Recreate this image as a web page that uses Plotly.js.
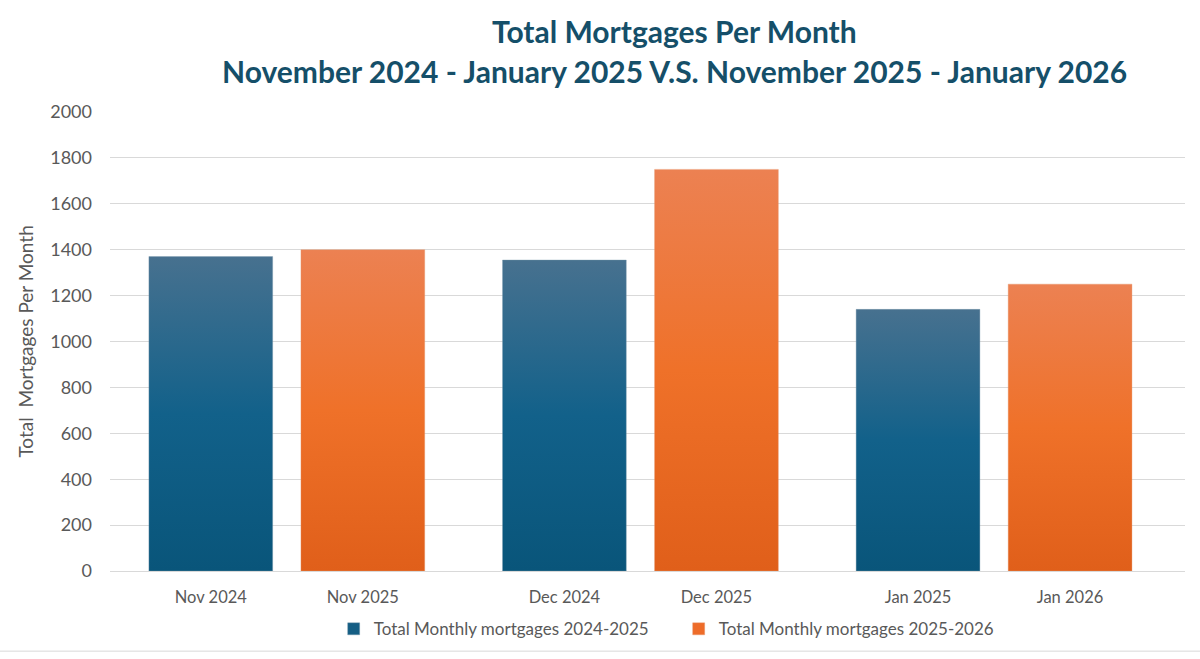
<!DOCTYPE html>
<html>
<head>
<meta charset="utf-8">
<script src="https://cdn.plot.ly/plotly-3.0.1.min.js"></script>
<style>
html,body{margin:0;padding:0;background:#fff;width:1200px;height:659px;overflow:hidden;}
#chart{width:1200px;height:659px;display:block;overflow:hidden;}
</style>
</head>
<body>
<div id="chart"></div>
<script>
// ---- data ----
const months2425 = ["Nov 2024", "Dec 2024", "Jan 2025"];
const months2526 = ["Nov 2025", "Dec 2025", "Jan 2026"];
const values2425 = [1370, 1355, 1140];
const values2526 = [1400, 1750, 1250];
const seriesNames = ["Total Monthly mortgages 2024-2025", "Total Monthly mortgages 2025-2026"];
const titleLines = ["Total Mortgages Per Month", "November 2024 - January 2025 V.S. November 2025 - January 2026"];
const yTitle = "Total  Mortgages Per Month";

const FONT = "Lato, 'Open Sans', sans-serif";
const TXT = "#595959";
const TITLE_COLOR = "#154F69";

const traces = [
  {
    type: "bar", name: seriesNames[0], x: months2425, y: values2425,
    xaxis: "x", yaxis: "y",
    offset: -0.39, width: 0.35,
    marker: {color: "#155E84", line: {width: 0.6, color: "rgba(120,150,170,0.6)"}},
    hoverinfo: "x+y"
  },
  {
    type: "bar", name: seriesNames[1], x: months2526, y: values2526,
    xaxis: "x2", yaxis: "y",
    offset: 0.04, width: 0.35,
    marker: {color: "#EE6C29", line: {width: 0.6, color: "rgba(230,150,110,0.6)"}},
    hoverinfo: "x+y"
  }
];

const xCommon = {
  type: "category",
  range: [-0.5, 2.54],
  showgrid: false,
  zeroline: false,
  showline: false,
  ticks: "",
  tickfont: {family: FONT, size: 16.5, color: TXT},
  ticklabelstandoff: 14,
  fixedrange: true
};

const layout = {
  width: 1200, height: 659,
  paper_bgcolor: "#ffffff", plot_bgcolor: "#ffffff",
  margin: {l: 110, r: 15, t: 112, b: 83},
  xaxis: Object.assign({}, xCommon, {ticklabelshift: -76}),
  xaxis2: Object.assign({}, xCommon, {overlaying: "x", side: "bottom", anchor: "y", ticklabelshift: 76}),
  yaxis: {
    range: [0, 2000], dtick: 200,
    showgrid: true, gridcolor: "#D9D9D9", gridwidth: 1,
    zeroline: true, zerolinecolor: "#D9D9D9", zerolinewidth: 1,
    showline: false, ticks: "",
    tickfont: {family: FONT, size: 18, color: TXT},
    ticklabelstandoff: 17,
    fixedrange: true
  },
  annotations: [
    {text: "<b>" + titleLines[0] + "</b>", xref: "paper", yref: "paper", x: 0.5247, y: 1.1767,
     xanchor: "center", yanchor: "middle", showarrow: false,
     font: {family: FONT, size: 30, color: TITLE_COLOR}},
    {text: "<b>" + titleLines[1] + "</b>", xref: "paper", yref: "paper", x: 0.5247, y: 1.0884,
     xanchor: "center", yanchor: "middle", showarrow: false,
     font: {family: FONT, size: 30, color: TITLE_COLOR}},
    {text: yTitle, xref: "paper", yref: "paper", x: -0.079, y: 0.5, textangle: -90,
     xanchor: "center", yanchor: "middle", showarrow: false,
     font: {family: FONT, size: 19, color: TXT}}
  ],
  showlegend: true,
  legend: {
    orientation: "h", x: 0.529, xanchor: "center", y: -0.127, yanchor: "middle",
    font: {family: FONT, size: 17, color: TXT},
    itemwidth: 30, traceorder: "normal",
    entrywidth: 300, entrywidthmode: "pixels",
    bgcolor: "rgba(0,0,0,0)"
  },
  shapes: [
    {type: "line", xref: "paper", yref: "paper", x0: -0.11, x1: 1.02, y0: -0.1746, y1: -0.1746,
     line: {color: "#D9D9D9", width: 1}}
  ],
  bargap: 0
};

Plotly.newPlot("chart", traces, layout, {displayModeBar: false, staticPlot: true}).then(function (gd) {
  const svg = gd.querySelector("svg.main-svg");
  let defs = svg.querySelector("defs");
  const ns = "http://www.w3.org/2000/svg";
  function addGrad(id, stops) {
    const g = document.createElementNS(ns, "linearGradient");
    g.setAttribute("id", id);
    g.setAttribute("x1", "0"); g.setAttribute("y1", "0");
    g.setAttribute("x2", "0"); g.setAttribute("y2", "1");
    stops.forEach(function (s) {
      const st = document.createElementNS(ns, "stop");
      st.setAttribute("offset", s[0]);
      st.setAttribute("stop-color", s[1]);
      g.appendChild(st);
    });
    defs.appendChild(g);
  }
  addGrad("gradBlue", [["0", "#47718F"], ["0.5", "#12618A"], ["1", "#09557A"]]);
  addGrad("gradOrange", [["0", "#EC8152"], ["0.5", "#EF7129"], ["1", "#E05F1A"]]);
  const barTraces = gd.querySelectorAll(".barlayer .trace");
  const grads = ["gradBlue", "gradOrange"];
  barTraces.forEach(function (t, i) {
    t.querySelectorAll("path").forEach(function (p) {
      p.style.fill = "url(#" + grads[i % 2] + ")";
    });
  });
});
</script>
</body>
</html>
